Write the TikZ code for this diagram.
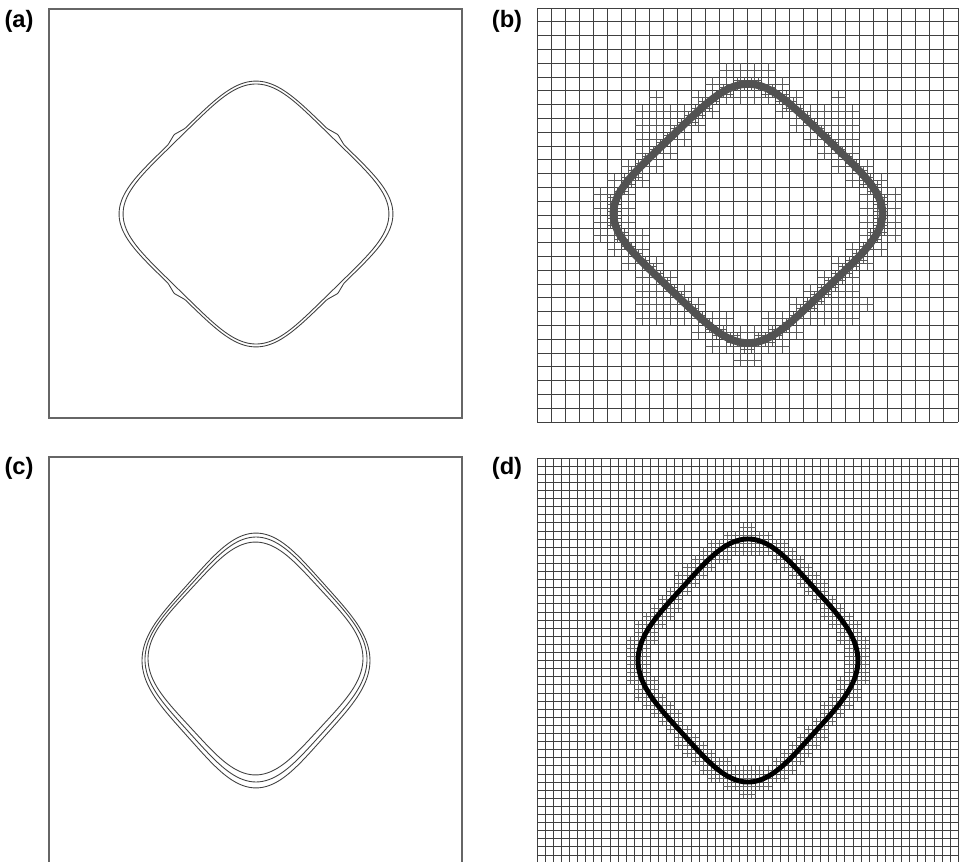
\documentclass[tikz,border=0pt]{standalone}
\usepackage{fontspec}
\setmainfont{Liberation Sans}

\tikzset{
  panel/.style={draw=black!60, line width=0.8pt},
  contour/.style={draw=black!75, line width=0.5pt, line join=round},
  coarse/.style={draw=black!75, line width=0.55pt},
  fine/.style={draw=black!65, line width=0.3pt},
  refine/.style={draw=black!60, line width=0.4pt},
  band/.style={draw=black!68, line width=4.3pt, line join=round},
  front/.style={draw=black, line width=2.8pt, line join=round},
  tag/.style={font=\fontsize{13.5}{15}\selectfont\bfseries, inner sep=0pt}
}

% radius of a squircle in the diagonal frame, with optional kinks at the side middles
\pgfmathdeclarefunction{sqrad}{3}{%
  \begingroup
    \pgfmathparse{1/((abs(cos(#1))^#2+abs(sin(#1))^#2)^(1/#2))}%
    \let\sqr\pgfmathresult
    \pgfmathparse{\sqr*(1+#3*max(0,1-abs(mod(#1+45,90)-45)/6))}%
    \pgfmathsmuggle\pgfmathresult
  \endgroup}

% approximate signed distance (px) to the squircle: dx, dy, Sx, Sy, q
\pgfmathdeclarefunction{sqlev}{5}{%
  \begingroup
    \pgfmathparse{0.7071*(#1/#3+#2/#4)}\let\squ\pgfmathresult
    \pgfmathparse{0.7071*(#1/#3-#2/#4)}\let\sqv\pgfmathresult
    \pgfmathparse{(abs(\squ)+0.0001)^#5+(abs(\sqv)+0.0001)^#5}\let\sqs\pgfmathresult
    \pgfmathparse{115*(\sqs^(1/#5)-1)}%
    \pgfmathsmuggle\pgfmathresult
  \endgroup}

% rounded diamond contour: style, cx, cy, Sx, Sy, q, kink
\newcommand\sqcurve[7]{%
  \draw[#1] plot[domain=0.5:360.5, samples=361]
    ({#2+#4*0.7071*sqrad(\x,#6,#7)*(cos(\x)+sin(\x))},
     {#3+#5*0.7071*sqrad(\x,#6,#7)*(cos(\x)-sin(\x))}) -- cycle;
}

\begin{document}
\begin{tikzpicture}[x=0.02cm, y=-0.02cm]
  \useasboundingbox (0,0) rectangle (965,862);

  % (a) two contours
  \node[tag] (la) at (19,21.5) {(a)};
  \draw[panel] (49,9) rectangle (462,418);
  \sqcurve{contour}{256}{214}{112.6}{109.3}{4.6}{0.028}
  \sqcurve{contour}{256}{214}{109.3}{106.9}{4.6}{0}

  % (b) coarse grid with refinement near the front
  \node[tag] (lb) at (507,21.5) {(b)};
  \foreach \i in {0,...,30}
    \draw[coarse] ({537+\i*14.033},8) -- ({537+\i*14.033},422);
  \foreach \j in {0,...,30}
    \draw[coarse] (537,{8+\j*13.8}) -- (958,{8+\j*13.8});
  \foreach \i in {0,...,29}{
    \foreach \j in {0,...,29}{
      \pgfmathsetmacro\xa{537+\i*14.033}
      \pgfmathsetmacro\ya{8+\j*13.8}
      \pgfmathsetmacro\lv{sqlev(\xa+7.0165-748,\ya+6.9-213.5,110.6,106.5,4.6)}
      \pgfmathsetmacro\ear{100*veclen((abs(\xa+7.0165-748)-95)/100,(abs(\ya+6.9-213.5)-93)/100)}
      \pgfmathtruncatemacro\ok{(abs(\lv)<18 || \ear<24) ? 1 : 0}
      \ifnum\ok=1
        \draw[fine] ({\xa+7.0165},\ya) -- ++(0,13.8) (\xa,{\ya+6.9}) -- ++(14.033,0);
        \foreach \u in {0,1}{
          \foreach \v in {0,1}{
            \pgfmathsetmacro\xb{\xa+\u*7.0165}
            \pgfmathsetmacro\yb{\ya+\v*6.9}
            \pgfmathsetmacro\lw{sqlev(\xb+3.508-748,\yb+3.45-213.5,110.6,106.5,4.6)}
            \pgfmathtruncatemacro\okk{abs(\lw)<6 ? 1 : 0}
            \ifnum\okk=1
              \draw[fine] ({\xb+3.508},\yb) -- ++(0,6.9) (\xb,{\yb+3.45}) -- ++(7.0165,0);
            \fi
          }
        }
      \fi
    }
  }
  \sqcurve{band}{748}{213.5}{110.6}{106.5}{4.6}{0}

  % (c) three contours
  \node[tag] (lc) at (19,468) {(c)};
  \draw[panel] (49,862) -- (49,457) -- (462,457) -- (462,862);
  \sqcurve{contour}{256}{660.5}{96.5}{107.9}{3.85}{0}
  \sqcurve{contour}{256}{659.5}{94.0}{103.7}{3.85}{0}
  \sqcurve{contour}{255.5}{658.5}{91.0}{98.6}{3.85}{0}

  % (d) fine grid, refined band and front
  \node[tag] (ld) at (507,468) {(d)};
  \foreach \i in {0,...,52}
    \draw[coarse, line width=0.45pt] ({537+\i*8.1},458) -- ({537+\i*8.1},862);
  \foreach \j in {0,...,49}
    \draw[coarse, line width=0.45pt] (537,{458+\j*8.1}) -- (958.2,{458+\j*8.1});
  \foreach \i in {0,...,51}{
    \foreach \j in {0,...,49}{
      \pgfmathsetmacro\xa{537+\i*8.1}
      \pgfmathsetmacro\ya{458+\j*8.1}
      \pgfmathsetmacro\lv{sqlev(\xa+4.05-748,\ya+4.05-660.5,93.1,102.9,3.85)}
      \pgfmathtruncatemacro\ok{abs(\lv)<13 ? 1 : 0}
      \ifnum\ok=1
        \draw[refine] ({\xa+4.05},\ya) -- ++(0,8.1) (\xa,{\ya+4.05}) -- ++(8.1,0);
      \fi
    }
  }
  \sqcurve{front}{748}{660.5}{93.1}{102.9}{3.85}{0}
\end{tikzpicture}
\end{document}
